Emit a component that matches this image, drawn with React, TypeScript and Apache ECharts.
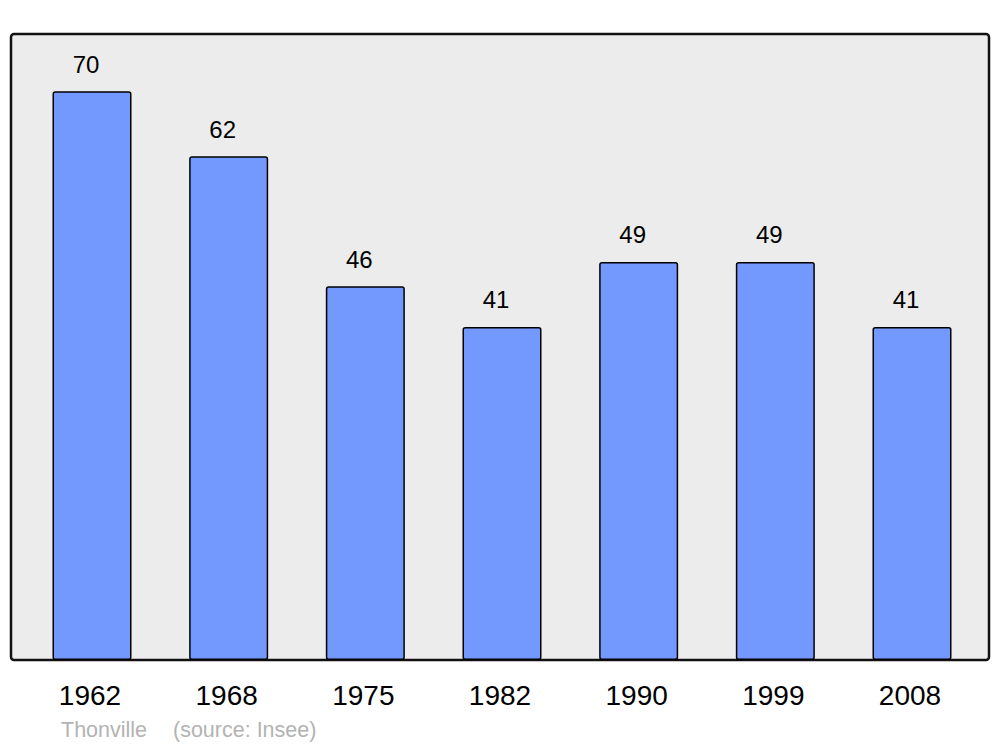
import React, { useEffect, useRef } from "react";
import * as echarts from "echarts";

const years = ["1962", "1968", "1975", "1982", "1990", "1999", "2008"];
const population = [70, 62, 46, 41, 49, 49, 41];
const townName = "Thonville";
const sourceText = "(source: Insee)";

export default function App() {
  const ref = useRef<HTMLDivElement>(null);
  useEffect(() => {
    if (!ref.current) return;
    document.body.style.margin = "0";
    const chart = echarts.init(ref.current, null, { renderer: "svg" });
    const font = "'Liberation Sans', Arial, sans-serif";
    chart.setOption({
      animation: false,
      backgroundColor: "#ffffff",
      grid: { left: 23.67, right: 19.67, top: 10, bottom: 87 },
      xAxis: {
        type: "category",
        data: years,
        axisLine: { show: false },
        axisTick: { show: false },
        axisLabel: {
          color: "#000",
          fontSize: 28,
          fontFamily: font,
          margin: 21,
          padding: [0, 4, 0, 0],
        },
      },
      yAxis: {
        type: "value",
        min: 0,
        max: 80,
        show: false,
        splitLine: { show: false },
      },
      graphic: [
        {
          type: "rect",
          z: -10,
          shape: { x: 11, y: 34, width: 978, height: 626, r: 3 },
          style: { fill: "#ececec", stroke: "#111", lineWidth: 2.5 },
          silent: true,
        },
        {
          type: "text",
          x: 61,
          y: 730,
          style: {
            text: townName,
            fill: "#b3b3b3",
            font: `21.5px ${font}`,
            textVerticalAlign: "middle",
            verticalAlign: "middle",
          },
        },
        {
          type: "text",
          x: 173,
          y: 730,
          style: {
            text: sourceText,
            fill: "#b3b3b3",
            font: `21.5px ${font}`,
            textVerticalAlign: "middle",
            verticalAlign: "middle",
          },
        },
      ],
      series: [
        {
          type: "bar",
          data: population,
          barWidth: 79,
          z: 5,
          itemStyle: {
            color: "#7399ff",
            borderColor: "#000",
            borderWidth: 1.5,
            borderRadius: 2,
          },
          label: {
            show: true,
            position: "top",
            distance: 15,
            offset: [-6, 0],
            color: "#000",
            fontSize: 24,
            fontFamily: font,
          },
        },
      ],
    });
    return () => chart.dispose();
  }, []);
  return (
    <div
      ref={ref}
      style={{ width: 1000, height: 747, position: "absolute", left: 0, top: 0 }}
    />
  );
}
